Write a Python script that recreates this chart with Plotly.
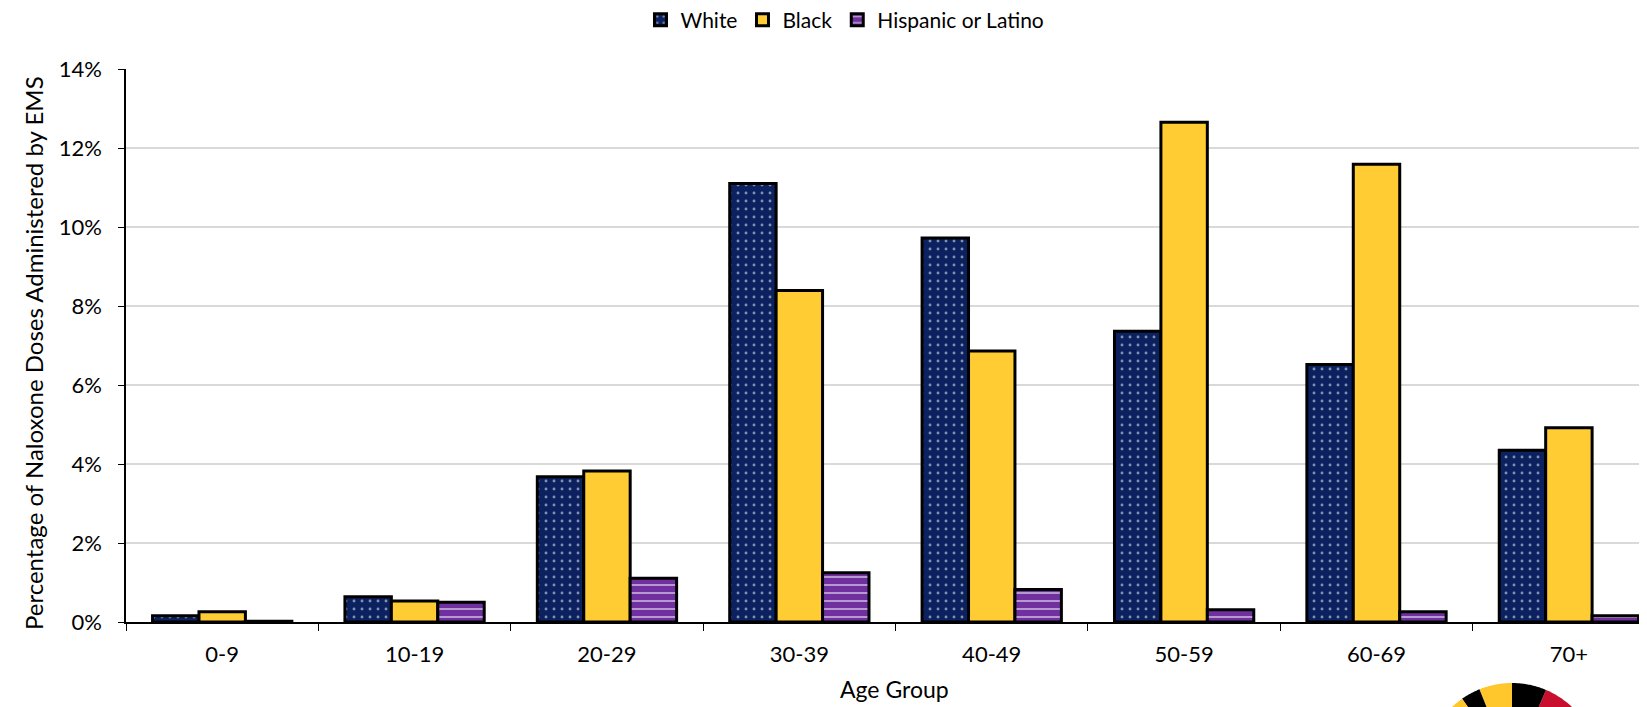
import numpy as np
import plotly.graph_objects as go

# data (percent of naloxone doses administered by EMS)
age_groups = ['0-9', '10-19', '20-29', '30-39', '40-49', '50-59', '60-69', '70+']
white = [0.16, 0.64, 3.68, 11.10, 9.72, 7.36, 6.52, 4.35]
black = [0.26, 0.53, 3.82, 8.39, 6.86, 12.65, 11.59, 4.92]
hispanic = [0.02, 0.50, 1.11, 1.25, 0.82, 0.31, 0.26, 0.16]

# page body has an 8px margin, so the figure is laid out 8px in from the window
OFF = 8
W, H = 1647 - OFF, 707 - OFF
ML, MT, MB = 126 - OFF, 69 - OFF, 707 - 622
PW, PH = W - ML, H - MT - MB
FONT = 'Lato'

fig = go.Figure()
fig.add_trace(go.Bar(
    x=age_groups, y=white, name='White',
    marker=dict(color='#0B2160', line=dict(color='black', width=3),
                pattern=dict(shape='.', fgcolor='white', bgcolor='#0B2160',
                             fillmode='overlay', size=8, solidity=0.1))
))
fig.add_trace(go.Bar(
    x=age_groups, y=black, name='Black',
    marker=dict(color='#FFCD33', line=dict(color='black', width=3))
))
fig.add_trace(go.Bar(
    x=age_groups, y=hispanic, name='Hispanic or Latino',
    marker=dict(color='#7030A0', line=dict(color='black', width=3),
                pattern=dict(shape='-', fgcolor='white', bgcolor='#7030A0',
                             fillmode='overlay', size=8, solidity=0.25))
))

# screen pixel -> paper coords
def to_paper(sx, sy):
    return (sx - OFF - ML) / PW, (H - MB - (sy - OFF)) / PH

# maryland-style logo peeking in at the bottom right
def wedge(a0, a1, cx=1512, cy=770, r=87):
    t = np.radians(np.linspace(a0, a1, 30))
    px = np.concatenate([[cx], cx + r * np.cos(t)])
    py = np.concatenate([[cy], cy - r * np.sin(t)])
    pts = ' L '.join('%.5f,%.5f' % to_paper(a, b) for a, b in zip(px, py))
    return 'M ' + pts + ' Z'

logo = [(0, 67, '#C8102E'), (67, 90, 'black'), (90, 112, '#FFC72C'),
        (112, 125, 'black'), (125, 180, '#FFC72C')]
shapes = [dict(type='path', xref='paper', yref='paper', path=wedge(a, b),
               fillcolor=c, line=dict(width=0), layer='above')
          for a, b, c in logo]

# axis titles as annotations, placed where the reference has them
xt_x, xt_y = to_paper(895, 689)
yt_x, yt_y = to_paper(33, 353)
annotations = [
    dict(text='Age Group', xref='paper', yref='paper', x=xt_x, y=xt_y,
         xanchor='center', yanchor='middle', showarrow=False, borderpad=0,
         font=dict(size=23)),
    dict(text='Percentage of Naloxone Doses Administered by EMS', xref='paper', yref='paper',
         x=yt_x, y=yt_y, xanchor='center', yanchor='middle', textangle=-90,
         showarrow=False, font=dict(size=24)),
]

# legend in container coords so it doesn't push the top margin
lg_x = (845 - OFF) / W
lg_y = 1 - (20 - OFF) / H

fig.update_layout(
    width=W, height=H,
    margin=dict(l=ML, r=0, t=MT, b=MB),
    plot_bgcolor='white', paper_bgcolor='white',
    font=dict(family=FONT, size=22, color='black'),
    barmode='group', bargap=0.276, bargroupgap=0,
    shapes=shapes, annotations=annotations,
    legend=dict(orientation='h', xref='container', yref='container',
                x=lg_x, xanchor='center', y=lg_y, yanchor='middle',
                font=dict(size=21), itemwidth=30, traceorder='normal'),
    xaxis=dict(range=[-0.5, 7.406], showline=True, linecolor='black', linewidth=1.5,
               ticks='outside', tickson='boundaries', ticklen=7, tickcolor='black',
               tickfont=dict(size=22), ticklabelstandoff=12, automargin=False),
    yaxis=dict(range=[0, 14], dtick=2, ticksuffix='%', showline=True, linecolor='black',
               linewidth=1.5, ticks='outside', ticklen=6, tickcolor='black',
               gridcolor='#D9D9D9', gridwidth=2, zeroline=False,
               tickfont=dict(size=22), ticklabelstandoff=12, automargin=False),
)

fig.write_html('out.html')
